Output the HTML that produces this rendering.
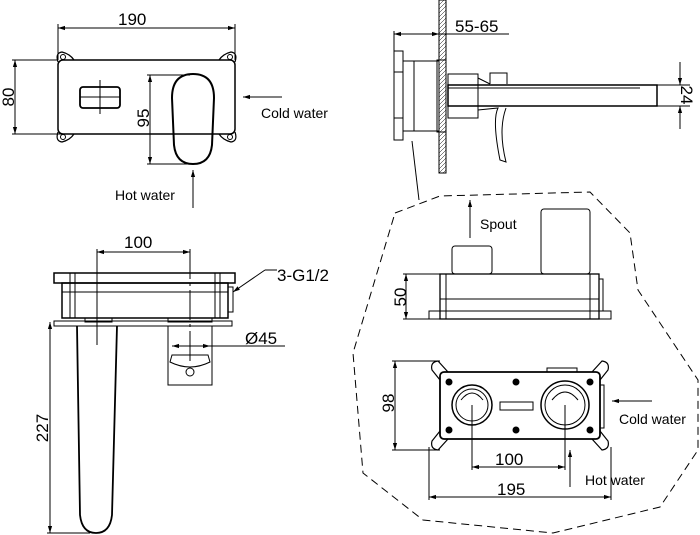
<!DOCTYPE html>
<html><head><meta charset="utf-8"><style>
html,body{margin:0;padding:0;background:#fff;}
svg{display:block;}
text{font-family:"Liberation Sans",sans-serif;fill:#000;}
</style></head><body>
<svg width="700" height="535" viewBox="0 0 700 535" xmlns="http://www.w3.org/2000/svg">
<defs>
<marker id="a" viewBox="0 0 10 10" refX="10" refY="5" markerWidth="7" markerHeight="7" orient="auto-start-reverse"><path d="M0,2 L10,5 L0,8 z" fill="#000"/></marker>
<pattern id="h" width="4" height="4" patternUnits="userSpaceOnUse"><path d="M0,4 L4,0" stroke="#000" stroke-width="0.5"/></pattern>
</defs>
<g fill="none" stroke="#000" stroke-width="1">
<!-- ===== Top-left view ===== -->
<line x1="58" y1="28" x2="235" y2="28" marker-start="url(#a)" marker-end="url(#a)"/>
<line x1="58" y1="24" x2="58" y2="60"/><line x1="235" y1="24" x2="235" y2="60"/>
<path d="M58,62 Q55,53 62,52 Q70,54 74,60 M235,62 Q238,53 231,52 Q223,54 219,60 M58,132 Q55,141 62,142 Q70,140 74,134 M235,132 Q238,141 231,142 Q223,140 219,134" stroke-width="1.2"/>
<circle cx="63" cy="57" r="2.5"/><circle cx="230" cy="57" r="2.5"/><circle cx="63" cy="137" r="2.5"/><circle cx="230" cy="137" r="2.5"/>
<rect x="58" y="60" width="177" height="74" rx="5" stroke-width="1.5"/>
<line x1="15" y1="60" x2="15" y2="134" marker-start="url(#a)" marker-end="url(#a)"/>
<line x1="12" y1="60" x2="58" y2="60"/><line x1="12" y1="134" x2="172" y2="134"/>
<rect x="80" y="87" width="40" height="21" rx="3" stroke-width="1.8"/>
<line x1="80" y1="97" x2="120" y2="97"/><line x1="100" y1="80" x2="100" y2="114"/>
<path d="M172,98 Q172,74 193,74 Q214,74 214,98 L212,145 Q210,164 193,164 Q176,164 174,145 Z" stroke-width="2"/>
<line x1="150" y1="75" x2="150" y2="164" marker-start="url(#a)" marker-end="url(#a)"/>
<line x1="147" y1="75" x2="190" y2="75"/><line x1="147" y1="164" x2="193" y2="164"/>
<line x1="282" y1="97" x2="243" y2="97" marker-end="url(#a)"/>
<line x1="193" y1="208" x2="193" y2="170" marker-end="url(#a)"/>
<!-- ===== Top-right side view ===== -->
<rect x="439" y="0" width="7" height="173" fill="url(#h)"/>
<line x1="439" y1="0" x2="439" y2="173"/><line x1="446" y1="0" x2="446" y2="173"/>
<line x1="394" y1="34" x2="439" y2="34" marker-start="url(#a)" marker-end="url(#a)"/>
<line x1="439" y1="34" x2="509" y2="34"/>
<line x1="394" y1="31" x2="394" y2="140"/>
<rect x="394" y="51" width="9" height="21"/><rect x="394" y="118" width="9" height="22"/>
<rect x="403" y="61" width="36" height="70"/>
<line x1="414" y1="61" x2="414" y2="131"/>
<rect x="437" y="60" width="9" height="72"/>
<rect x="448" y="74" width="30" height="44"/>
<path d="M478,78 L490,84 M490,84 L490,73 L507,73 L507,84"/>
<rect x="448" y="85" width="209" height="21" stroke-width="1.5"/>
<line x1="448" y1="88" x2="640" y2="88"/>
<path d="M478,110 L498,108 Q492,120 500,160 L506,162 Q498,130 506,108"/>
<line x1="657" y1="85" x2="690" y2="85"/><line x1="657" y1="106" x2="690" y2="106"/>
<line x1="680" y1="62" x2="680" y2="85" marker-end="url(#a)"/>
<line x1="680" y1="129" x2="680" y2="106" marker-end="url(#a)"/>
<line x1="419" y1="200" x2="412" y2="141"/>
<!-- ===== Bottom-left view ===== -->
<line x1="97" y1="252" x2="190" y2="252" marker-start="url(#a)" marker-end="url(#a)"/>
<line x1="97" y1="249" x2="97" y2="345"/>
<line x1="190" y1="249" x2="190" y2="362" stroke-dasharray="30,4,3,4"/>
<rect x="54" y="273" width="181" height="10" stroke-width="1.5"/>
<rect x="62" y="283" width="166" height="35" stroke-width="1.5"/>
<line x1="62" y1="292" x2="228" y2="292"/>
<line x1="70" y1="273" x2="70" y2="318"/><line x1="75" y1="273" x2="75" y2="318"/>
<line x1="215" y1="273" x2="215" y2="318"/><line x1="220" y1="273" x2="220" y2="318"/>
<rect x="228" y="287" width="5" height="25"/>
<rect x="54" y="321" width="178" height="5"/>
<rect x="85" y="318" width="27" height="4"/><rect x="168" y="318" width="44" height="4"/>
<path d="M77,326 L80,515 Q82,533 96,533 Q110,533 112,515 L117,326" stroke-width="1.8"/>
<line x1="50" y1="322" x2="50" y2="533" marker-start="url(#a)" marker-end="url(#a)"/>
<line x1="47" y1="533" x2="90" y2="533"/>
<rect x="168" y="326" width="44" height="59"/>
<path d="M172,355 L208,355 L210,362 Q190,372 170,362 Z"/>
<circle cx="190" cy="372" r="4"/>
<line x1="172" y1="346" x2="210" y2="346" marker-start="url(#a)" marker-end="url(#a)"/>
<line x1="210" y1="346" x2="285" y2="346"/>
<line x1="265" y1="270" x2="233" y2="292" marker-end="url(#a)"/>
<line x1="265" y1="270" x2="277" y2="270"/>
<!-- ===== Dashed region ===== -->
<path d="M395,213 L440,196 L590,192 L630,233 L638,290 L698,380 L698,450 L660,507 L553,533 L423,520 L363,473 L353,353 Z" stroke-dasharray="8,5"/>
<!-- side view of box -->
<line x1="470" y1="238" x2="470" y2="200" marker-end="url(#a)"/>
<rect x="452" y="246" width="40" height="28" rx="3"/>
<rect x="541" y="209" width="49" height="65" rx="3"/>
<rect x="440" y="274" width="159" height="45" stroke-width="1.3"/>
<line x1="440" y1="299" x2="599" y2="299"/>
<line x1="446" y1="274" x2="446" y2="319"/><line x1="590" y1="274" x2="590" y2="319"/>
<rect x="599" y="279" width="4" height="32"/>
<rect x="429" y="311" width="182" height="8"/>
<line x1="406" y1="274" x2="406" y2="319" marker-start="url(#a)" marker-end="url(#a)"/>
<line x1="403" y1="274" x2="440" y2="274"/><line x1="403" y1="319" x2="429" y2="319"/>
<!-- front view of box -->
<path d="M440,380 L432,370 Q430,362 438,361 L448,372 M600,380 L608,370 Q610,362 602,361 L592,372 M440,431 L432,441 Q430,449 438,450 L448,439 M600,431 L608,441 Q610,449 602,450 L592,439" stroke-width="1.2"/>
<rect x="440" y="372" width="160" height="67" rx="4" stroke-width="1.8"/>
<rect x="547" y="368" width="30" height="4"/>
<rect x="600" y="385" width="4" height="43"/>
<circle cx="472" cy="405" r="20" stroke-width="1.5"/><circle cx="472" cy="405" r="16"/>
<circle cx="565" cy="405" r="24" stroke-width="1.5"/><circle cx="565" cy="405" r="20"/>
<path d="M461,400 Q472,386 483,400 M552,400 Q565,384 578,400"/>
<rect x="500" y="402" width="33" height="8"/>
<g fill="#000"><circle cx="449" cy="382" r="3"/><circle cx="516" cy="382" r="3"/><circle cx="590" cy="382" r="3"/><circle cx="449" cy="430" r="3"/><circle cx="516" cy="430" r="3"/><circle cx="590" cy="430" r="3"/></g>
<line x1="395" y1="361" x2="395" y2="450" marker-start="url(#a)" marker-end="url(#a)"/>
<line x1="392" y1="361" x2="440" y2="361"/><line x1="392" y1="450" x2="440" y2="450"/>
<line x1="472" y1="405" x2="472" y2="470"/><line x1="565" y1="405" x2="565" y2="470"/>
<line x1="472" y1="467" x2="565" y2="467" marker-start="url(#a)" marker-end="url(#a)"/>
<line x1="429" y1="447" x2="429" y2="500"/><line x1="611" y1="447" x2="611" y2="500"/>
<line x1="429" y1="497" x2="611" y2="497" marker-start="url(#a)" marker-end="url(#a)"/>
<line x1="652" y1="401" x2="612" y2="401" marker-end="url(#a)"/>
<line x1="570" y1="487" x2="570" y2="450" marker-end="url(#a)"/>
</g>
<!-- Text -->
<g font-size="17">
<text x="118" y="25">190</text>
<text transform="translate(14,97) rotate(-90)" text-anchor="middle">80</text>
<text transform="translate(149,118) rotate(-90)" text-anchor="middle">95</text>
<text x="455" y="32">55-65</text>
<text transform="translate(681,95) rotate(90)" text-anchor="middle">24</text>
<text x="124" y="248">100</text>
<text x="277" y="281">3-G1/2</text>
<text x="245" y="344">Ø45</text>
<text transform="translate(48,428) rotate(-90)" text-anchor="middle">227</text>
<text transform="translate(406,297) rotate(-90)" text-anchor="middle">50</text>
<text transform="translate(394,403) rotate(-90)" text-anchor="middle">98</text>
<text x="495" y="465">100</text>
<text x="497" y="495">195</text>
</g>
<g font-size="14">
<text x="261" y="118">Cold water</text>
<text x="115" y="200">Hot water</text>
<text x="480" y="229">Spout</text>
<text x="619" y="424">Cold water</text>
<text x="585" y="485">Hot water</text>
</g>
</svg>
</body></html>
